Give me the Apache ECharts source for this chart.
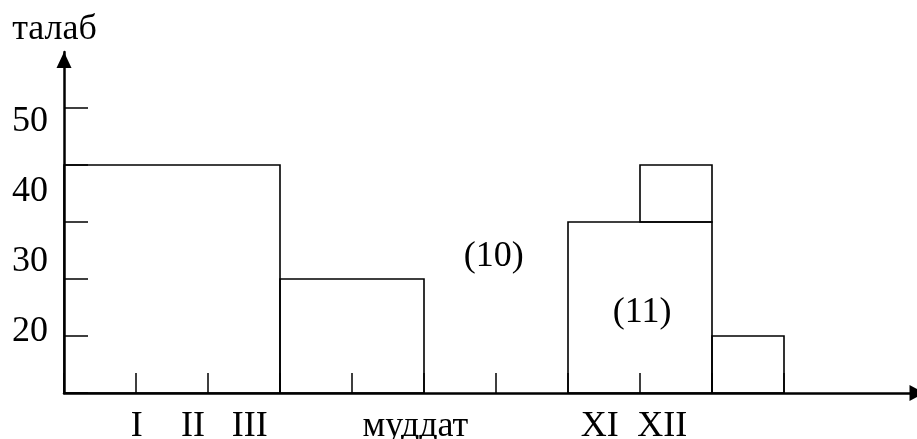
<!DOCTYPE html>
<html>
<head>
<meta charset="utf-8">
<script src="https://cdn.jsdelivr.net/npm/echarts@6/dist/echarts.min.js"></script>
<style>
  html, body { margin: 0; padding: 0; background: #fff; }
  #chart { width: 917px; height: 439px; }
</style>
</head>
<body>
<div id="chart"></div>
<script>
// ---- data ----
const yAxisName = 'талаб';
const yTickLabels = [20, 30, 40, 50];
const barStart = [0, 3, 7, 8, 9];
const barEnd   = [3, 5, 9, 9, 10];
const barBase  = [0, 0, 0, 3, 0];
const barTop   = [4, 2, 3, 4, 1];
const xLabels   = ['I', 'II', 'III', 'муддат', 'XI', 'XII'];
const xLabelPos = [1.01, 1.79, 2.58, 4.88, 7.44, 8.31];
const notes  = ['(10)', '(11)'];
const noteX  = [5.97, 8.03];
const noteY  = [2.39, 1.42];

const FONT = '"Liberation Serif", "Times New Roman", serif';
const FS = 36;

const bars = barStart.map((s, i) => [s, barEnd[i], barBase[i], barTop[i]]);
const xLabelData = xLabels.map((t, i) => [xLabelPos[i], t]);
const noteData = notes.map((t, i) => [noteX[i], noteY[i], t]);

const hiddenAxis = { axisLine: { show: false }, axisTick: { show: false }, axisLabel: { show: false }, splitLine: { show: false } };

const chart = echarts.init(document.getElementById('chart'), null, { renderer: 'canvas' });
chart.setOption({
  animation: false,
  backgroundColor: '#fff',
  grid: [
    { left: 64, right: 0, top: 52, bottom: 46 },
    { left: 64, right: 133, top: 108, bottom: 46 },
    { left: 64, right: 133, top: 51.5, bottom: 37.5 }
  ],
  xAxis: [
    {
      gridIndex: 0, type: 'value', min: 0, max: 1,
      axisLine: { show: true, lineStyle: { color: '#000', width: 2.5 },
        symbol: ['none', 'triangle'], symbolSize: [16, 15], symbolOffset: [0, 0] },
      axisTick: { show: false }, axisLabel: { show: false }, splitLine: { show: false }
    },
    {
      gridIndex: 1, type: 'value', min: 0, max: 10, interval: 1,
      axisLine: { show: false },
      axisTick: { show: true, inside: true, length: 20, lineStyle: { color: '#000', width: 1.5 } },
      axisLabel: { show: false }, splitLine: { show: false }
    },
    Object.assign({ gridIndex: 2, type: 'value', min: 0, max: 1 }, hiddenAxis)
  ],
  yAxis: [
    {
      gridIndex: 0, type: 'value', min: 0, max: 1,
      name: yAxisName, nameLocation: 'end', nameGap: 4,
      nameTextStyle: { fontFamily: FONT, fontSize: FS, color: '#000', padding: [0, 19, 0, 0] },
      axisLine: { show: true, lineStyle: { color: '#000', width: 2.5 },
        symbol: ['none', 'triangle'], symbolSize: [15, 16], symbolOffset: [0, -8] },
      axisTick: { show: false }, axisLabel: { show: false }, splitLine: { show: false }
    },
    {
      gridIndex: 1, type: 'value', min: 0, max: 5, interval: 1,
      axisLine: { show: false },
      axisTick: { show: true, inside: true, length: 24, lineStyle: { color: '#000', width: 1.5 } },
      axisLabel: { show: false }, splitLine: { show: false }
    },
    {
      gridIndex: 2, type: 'value', min: 10, max: 60, interval: 10,
      axisLine: { show: false }, axisTick: { show: false }, splitLine: { show: false },
      axisLabel: {
        show: true, margin: 16, fontFamily: FONT, fontSize: FS, color: '#000',
        formatter: v => (yTickLabels.indexOf(v) >= 0 ? String(v) : '')
      }
    }
  ],
  series: [
    {
      type: 'custom', xAxisIndex: 1, yAxisIndex: 1, data: bars, clip: false,
      renderItem: (params, api) => {
        const p0 = api.coord([api.value(0), api.value(3)]);
        const p1 = api.coord([api.value(1), api.value(2)]);
        return {
          type: 'rect',
          shape: { x: p0[0], y: p0[1], width: p1[0] - p0[0], height: p1[1] - p0[1] },
          style: { fill: 'none', stroke: '#000', lineWidth: 1.6 }
        };
      }
    },
    {
      type: 'custom', xAxisIndex: 1, yAxisIndex: 1, data: xLabelData, clip: false,
      renderItem: (params, api) => {
        const p = api.coord([api.value(0), 0]);
        return {
          type: 'text',
          style: { x: p[0], y: p[1] + 34, text: xLabels[params.dataIndex],
            align: 'center', verticalAlign: 'middle',
            font: FS + 'px ' + FONT, fill: '#000' }
        };
      }
    },
    {
      type: 'custom', xAxisIndex: 1, yAxisIndex: 1, data: noteData, clip: false,
      renderItem: (params, api) => {
        const p = api.coord([api.value(0), api.value(1)]);
        return {
          type: 'text',
          style: { x: p[0], y: p[1], text: notes[params.dataIndex],
            align: 'center', verticalAlign: 'middle',
            font: FS + 'px ' + FONT, fill: '#000' }
        };
      }
    }
  ]
});
</script>
</body>
</html>
